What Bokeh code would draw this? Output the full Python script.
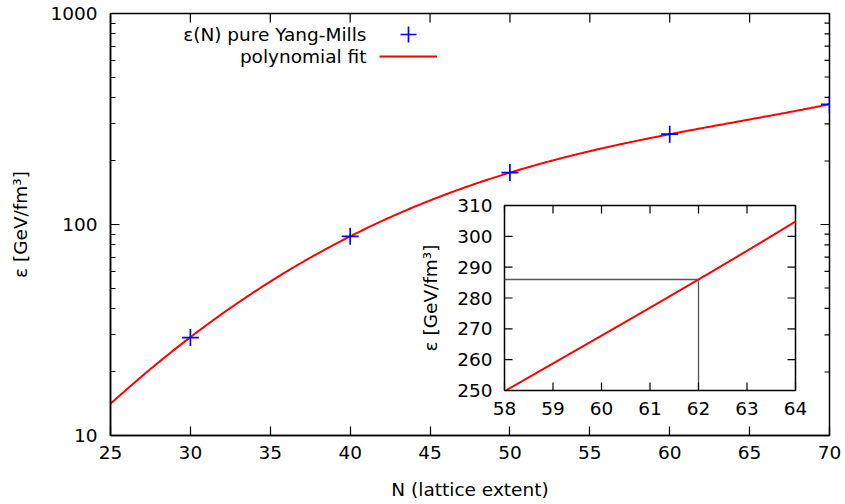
import numpy as np
from bokeh.plotting import figure
from bokeh.models import (Range1d, LinearScale, FixedTicker, NumeralTickFormatter,
                          Label, Legend, LegendItem)
from bokeh.core.properties import value
from bokeh.embed import file_html
from bokeh.resources import INLINE

# ---------------- data ----------------
lattice_n = [30, 40, 50, 60, 70]
energy_density = [29.1, 87.9, 176.2, 268.0, 371.4]

# polynomial fit (in log10 space): log10(eps) = poly((N - fit_center) / fit_scale)
fit_center = 50.0
fit_scale = 10.0
fit_log_coeffs = [0.0010303, 0.0113329, -0.0611403, 0.2306571, 2.2459]
fit_n_range = [25, 70]

main_x_range = [25, 70]
main_y_range = [10, 1000]
x_ticks = [25, 30, 35, 40, 45, 50, 55, 60, 65, 70]
y_major_ticks = [10, 100, 1000]
y_minor_ticks = [20, 30, 40, 50, 60, 70, 80, 90, 200, 300, 400, 500, 600, 700, 800, 900]

inset_n_range = [58, 64]
inset_eps_range = [250, 310]
inset_x_ticks = [58, 59, 60, 61, 62, 63, 64]
inset_y_ticks = [250, 260, 270, 280, 290, 300, 310]
marked_n = 62
marked_eps = 286

series_label = "ε(N) pure Yang-Mills"
fit_label = "polynomial fit"
x_label = "N (lattice extent)"
y_label = "ε [GeV/fm³]"

# ---------------- layout / style ----------------
W, H = 845, 504
FL, FR, FT, FB = 110, 829, 13, 435          # main frame (canvas px)
IL, IR, IT, IB = 504, 795, 205, 390         # inset box (canvas px)
FONT = "DejaVu Sans"
FS = "18.5px"
BLACK = "#000000"

p = figure(width=W, height=H, x_range=Range1d(*main_x_range), y_range=Range1d(*main_y_range),
           y_axis_type="log", output_backend="svg", toolbar_location=None,
           min_border_left=FL, min_border_right=W - FR, min_border_top=FT, min_border_bottom=H - FB)
p.grid.visible = False
p.outline_line_color = BLACK
p.outline_line_width = 1.5
p.background_fill_color = "white"
p.border_fill_color = "white"

p.xaxis.ticker = FixedTicker(ticks=x_ticks, minor_ticks=[])
p.yaxis.ticker = FixedTicker(ticks=y_major_ticks, minor_ticks=y_minor_ticks)
p.yaxis.formatter = NumeralTickFormatter(format="0")
for ax in (p.xaxis[0], p.yaxis[0]):
    ax.major_tick_in = 9
    ax.major_tick_out = 0
    ax.minor_tick_in = 5
    ax.minor_tick_out = 0
    ax.axis_line_color = BLACK
    ax.axis_line_width = 1.5
    ax.major_tick_line_color = BLACK
    ax.major_tick_line_width = 1.2
    ax.minor_tick_line_color = BLACK
    ax.minor_tick_line_width = 1.2
    ax.major_label_text_font = FONT
    ax.major_label_text_font_size = FS
    ax.major_label_text_color = BLACK
    ax.axis_label_text_font = FONT
    ax.axis_label_text_font_size = FS
    ax.axis_label_text_font_style = "normal"
    ax.axis_label_text_color = BLACK
p.xaxis.major_label_standoff = 10
p.yaxis.major_label_standoff = 13
p.xaxis.axis_label = x_label
p.yaxis.axis_label = y_label
p.xaxis.axis_label_standoff = 17
p.yaxis.axis_label_standoff = 16

# mirrored ticks on top and right
p.ray(x=x_ticks, y=[main_y_range[1]] * len(x_ticks), length=9, length_units="screen",
      angle=-np.pi / 2, line_color=BLACK, line_width=1.2)
p.ray(x=[main_x_range[1]] * len(y_major_ticks), y=y_major_ticks, length=9, length_units="screen",
      angle=np.pi, line_color=BLACK, line_width=1.2)
p.ray(x=[main_x_range[1]] * len(y_minor_ticks), y=y_minor_ticks, length=5, length_units="screen",
      angle=np.pi, line_color=BLACK, line_width=1.2)

# fit curve and data
fit_n = np.linspace(fit_n_range[0], fit_n_range[1], 451)
fit_eps = 10 ** np.polyval(fit_log_coeffs, (fit_n - fit_center) / fit_scale)
curve = p.line(fit_n, fit_eps, line_color="#ff0000", line_width=2)
pts = p.scatter(lattice_n, energy_density, marker="cross", size=17,
                line_color="#0000ff", line_width=1.7)

# legend (gnuplot style: text right, sample left) - one legend box per entry
def key_legend(renderer, glyph_h, center_y):
    return Legend(items=[LegendItem(label=" ", renderers=[renderer])],
                  location=(379 - FL, FB - (center_y + glyph_h / 2)), orientation="vertical",
                  glyph_width=58, glyph_height=glyph_h, spacing=0, padding=0, margin=0,
                  border_line_color=None, background_fill_color=None, background_fill_alpha=0,
                  label_standoff=0, label_width=0, label_height=0, label_text_font_size="1px")

p.add_layout(key_legend(pts, 40, 34))
p.add_layout(key_legend(curve, 20, 56))
for txt, cy in ((series_label, 34), (fit_label, 56)):
    p.add_layout(Label(x=366 - FL, y=FB - cy, x_units="screen", y_units="screen", text=txt,
                       text_align="right", text_baseline="middle", text_font=FONT,
                       text_font_size=FS, text_color=BLACK))

# ---------------- inset (drawn with extra linear ranges) ----------------
sx = (inset_n_range[1] - inset_n_range[0]) / (IR - IL)
sy = (inset_eps_range[1] - inset_eps_range[0]) / (IB - IT)
p.extra_x_ranges = {"ix": Range1d(inset_n_range[0] - (IL - FL) * sx, inset_n_range[1] + (FR - IR) * sx)}
p.extra_y_ranges = {"iy": Range1d(inset_eps_range[0] - (FB - IB) * sy, inset_eps_range[1] + (IT - FT) * sy)}
p.extra_x_scales = {"ix": LinearScale()}
p.extra_y_scales = {"iy": LinearScale()}
R = dict(x_range_name="ix", y_range_name="iy")

p.quad(left=[inset_n_range[0]], right=[inset_n_range[1]], bottom=[inset_eps_range[0]],
       top=[inset_eps_range[1]], fill_color="white", line_color=BLACK, line_width=1.5, **R)

in_n = np.linspace(inset_n_range[0], inset_n_range[1], 1201)
in_eps = 10 ** np.polyval(fit_log_coeffs, (in_n - fit_center) / fit_scale)
mask = (in_eps >= inset_eps_range[0]) & (in_eps <= inset_eps_range[1])
p.line(in_n[mask], in_eps[mask], line_color="#ff0000", line_width=2, **R)

p.line(x=[inset_n_range[0], marked_n, marked_n], y=[marked_eps, marked_eps, inset_eps_range[0]],
       line_color="#555555", line_width=1.3, **R)

nx, ny = len(inset_x_ticks), len(inset_y_ticks)
p.ray(x=inset_x_ticks, y=[inset_eps_range[0]] * nx, length=8, length_units="screen",
      angle=np.pi / 2, line_color=BLACK, line_width=1.2, **R)
p.ray(x=inset_x_ticks, y=[inset_eps_range[1]] * nx, length=8, length_units="screen",
      angle=-np.pi / 2, line_color=BLACK, line_width=1.2, **R)
p.ray(x=[inset_n_range[0]] * ny, y=inset_y_ticks, length=8, length_units="screen",
      angle=0, line_color=BLACK, line_width=1.2, **R)
p.ray(x=[inset_n_range[1]] * ny, y=inset_y_ticks, length=8, length_units="screen",
      angle=np.pi, line_color=BLACK, line_width=1.2, **R)

p.text(x=inset_x_ticks, y=[inset_eps_range[0]] * nx, text=[str(t) for t in inset_x_ticks],
       y_offset=11, text_align="center", text_baseline="top", text_font=value(FONT),
       text_font_size=FS, text_color=BLACK, **R)
p.text(x=[inset_n_range[0]] * ny, y=inset_y_ticks, text=[str(t) for t in inset_y_ticks],
       x_offset=-12, text_align="right", text_baseline="middle", text_font=value(FONT),
       text_font_size=FS, text_color=BLACK, **R)
p.text(x=[inset_n_range[0]], y=[(inset_eps_range[0] + inset_eps_range[1]) / 2], text=[y_label],
       x_offset=-74, angle=np.pi / 2, text_align="center", text_baseline="middle",
       text_font=value(FONT), text_font_size=FS, text_color=BLACK, **R)

open("out.html", "w").write(file_html(p, INLINE))
